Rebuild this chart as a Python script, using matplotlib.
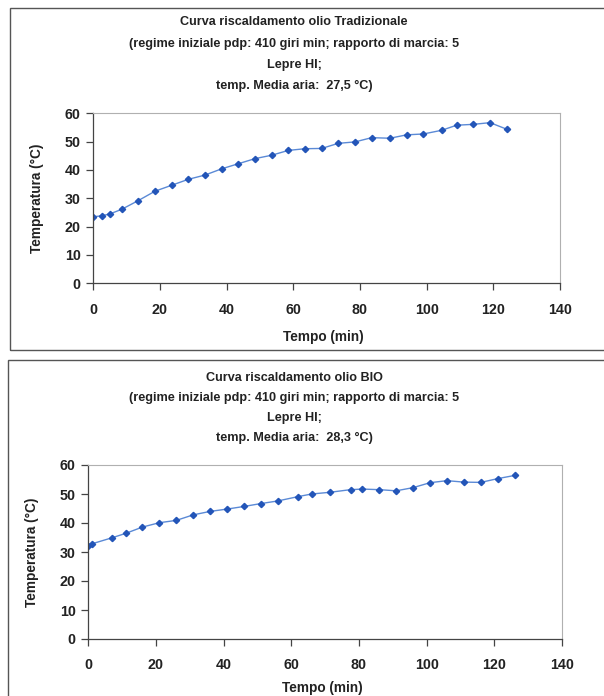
import matplotlib
matplotlib.use('Agg')
import matplotlib.pyplot as plt
from matplotlib.patches import Rectangle

# olio tradizionale
tempo_trad = [0, 2.5, 5, 8.5, 13.5, 18.5, 23.5, 28.5, 33.5, 38.5, 43.5, 48.5, 53.5, 58.5,
              63.5, 68.5, 73.5, 78.5, 83.5, 89, 94, 99, 104.5, 109, 114, 119, 124]
temp_trad = [23.5, 23.8, 24.5, 26.1, 29.2, 32.5, 34.6, 36.7, 38.2, 40.4, 42.2, 44.0, 45.2, 46.9,
             47.5, 47.6, 49.4, 49.9, 51.4, 51.2, 52.4, 52.7, 54.0, 55.8, 56.1, 56.7, 54.4]

# olio BIO
tempo_bio = [0, 1, 7, 11, 16, 21, 26, 31, 36, 41, 46, 51, 56, 62,
             66, 71.5, 77.5, 81, 86, 91, 96, 101, 106, 111, 116, 121, 126]
temp_bio = [32.2, 32.8, 34.9, 36.4, 38.6, 40.1, 40.9, 42.8, 44.0, 44.8, 45.7, 46.7, 47.6, 49.1,
            50.0, 50.6, 51.5, 51.7, 51.5, 51.1, 52.2, 53.9, 54.6, 54.1, 54.0, 55.3, 56.4]

titolo_trad = ["Curva riscaldamento olio Tradizionale",
               "(regime iniziale pdp: 410 giri min; rapporto di marcia: 5",
               "Lepre HI;",
               "temp. Media aria:  27,5 °C)"]
titolo_bio = ["Curva riscaldamento olio BIO",
              "(regime iniziale pdp: 410 giri min; rapporto di marcia: 5",
              "Lepre HI;",
              "temp. Media aria:  28,3 °C)"]

W, H = 604, 696
fig = plt.figure(figsize=(W / 100, H / 100), dpi=100)
fig.patch.set_facecolor('white')
font = 'Liberation Sans'


def fx(x):
    return x / W


def fy(y):
    return 1 - y / H


# cornici dei due riquadri
fig.patches.append(Rectangle((fx(10), fy(350)), fx(700), (350 - 8) / H, transform=fig.transFigure,
                             fill=False, edgecolor='#555555', linewidth=1.0))
fig.patches.append(Rectangle((fx(8), fy(760)), fx(700), (760 - 360) / H, transform=fig.transFigure,
                             fill=False, edgecolor='#555555', linewidth=1.0))


def pannello(rect, tempo, temp, titolo, title_y, ylab_x, xlab_y):
    ax = fig.add_axes(rect)
    ax.plot(tempo, temp, color='#5b8ad6', linewidth=1.0, marker='D', markersize=3.2,
            markerfacecolor='#2355b8', markeredgecolor='#2355b8')
    ax.set_xlim(0, 140)
    ax.set_ylim(0, 60)
    ax.set_xticks(range(0, 141, 20))
    ax.set_yticks(range(0, 61, 10))
    for s in ['top', 'right']:
        ax.spines[s].set_color('#b0b0b0')
        ax.spines[s].set_linewidth(0.8)
    for s in ['left', 'bottom']:
        ax.spines[s].set_color('#444444')
        ax.spines[s].set_linewidth(0.9)
    ax.tick_params(axis='both', direction='out', length=5, width=0.9, color='#444444',
                   labelsize=10.3)
    ax.tick_params(axis='x', pad=9)
    ax.tick_params(axis='y', pad=4)
    for lab in ax.get_xticklabels() + ax.get_yticklabels():
        lab.set_fontfamily(font)
        lab.set_fontweight('bold')
        lab.set_color('#222222')
    for i, riga in enumerate(titolo):
        fig.text(fx(294), fy(title_y[i]), riga, ha='center', va='center', fontsize=9.1,
                 fontweight='bold', family=font, color='#222222')
    fig.text(fx(ylab_x), rect[1] + rect[3] / 2, 'Temperatura (°C)', rotation=90, ha='center',
             va='center', fontsize=9.8, fontweight='bold', family=font, color='#222222')
    fig.text(rect[0] + rect[2] / 2 - 0.005, fy(xlab_y), 'Tempo (min)', ha='center', va='center',
             fontsize=9.8, fontweight='bold', family=font, color='#222222')
    return ax


pannello([fx(93.3), fy(283.3), fx(560 - 93.3), 170 / H], tempo_trad, temp_trad, titolo_trad,
         [22, 44, 65, 86], 37, 337)
pannello([fx(88.3), fy(639), fx(562 - 88.3), 174 / H], tempo_bio, temp_bio, titolo_bio,
         [378, 398, 418, 438], 32, 688)

fig.savefig('out.png', dpi=100)
